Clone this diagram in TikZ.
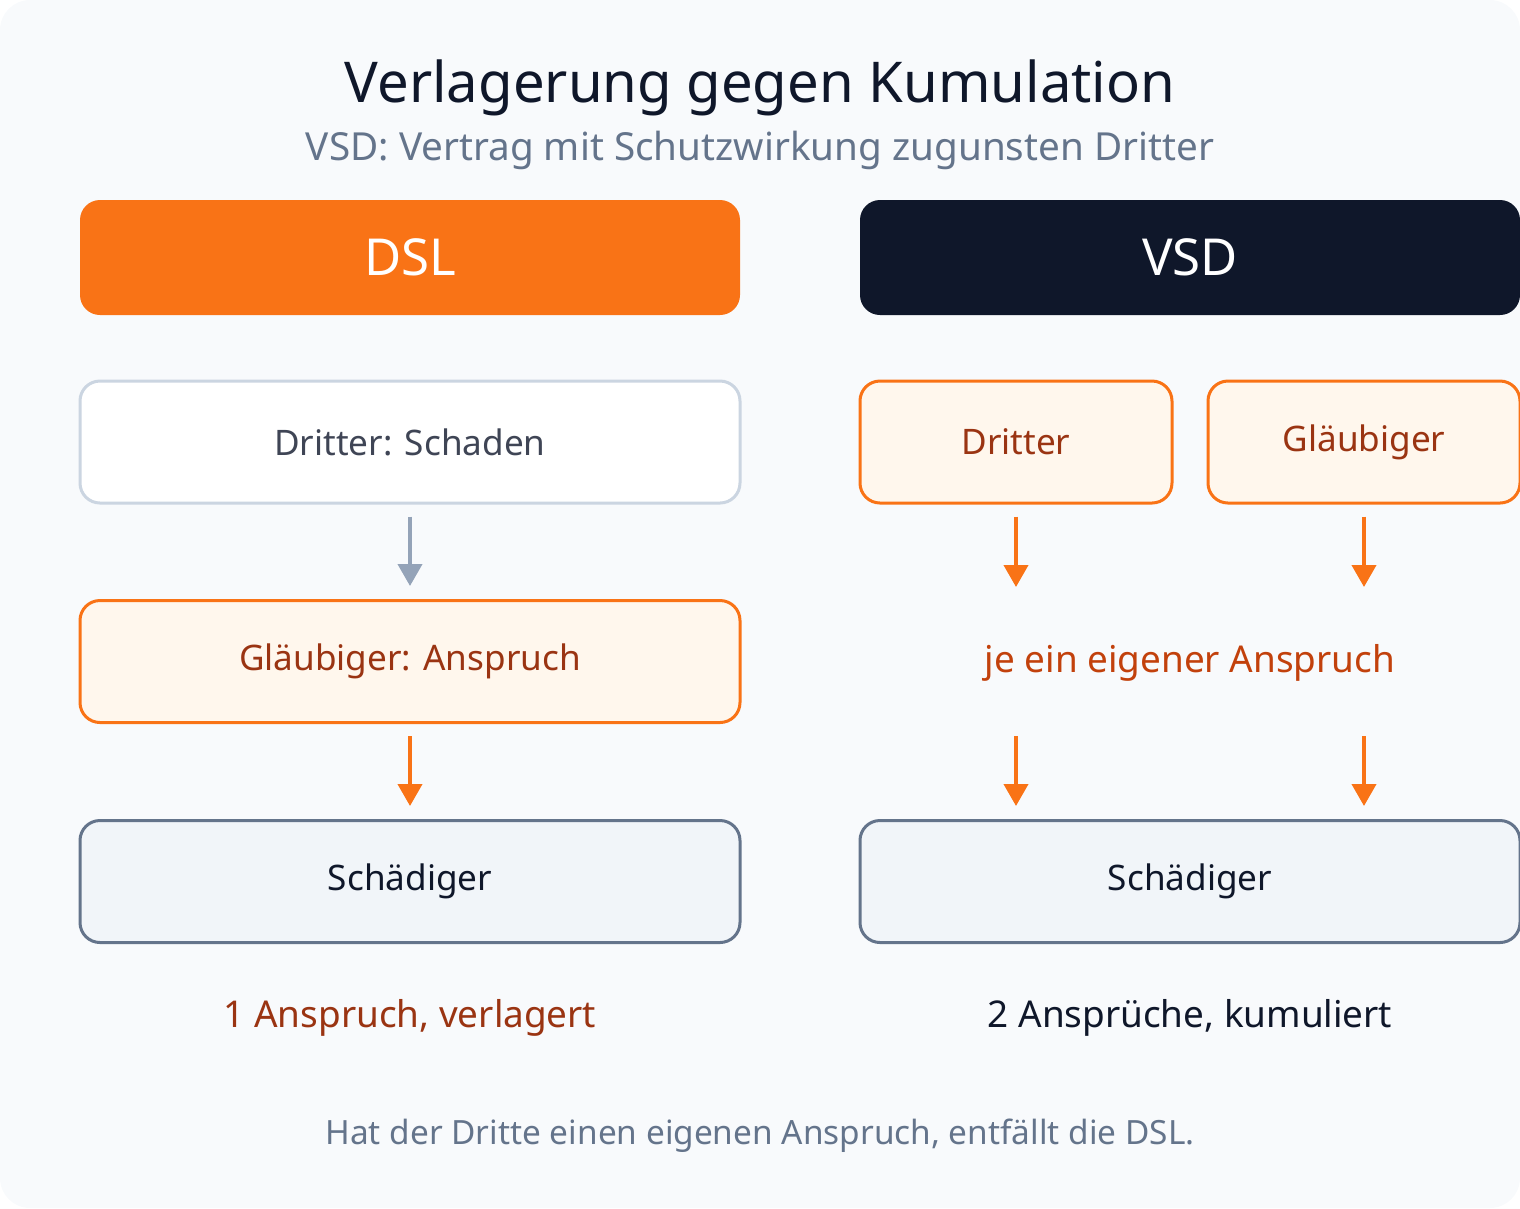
\documentclass[tikz,border=0pt]{standalone}
\usepackage{fontspec}
\setmainfont{Noto Sans}
\usetikzlibrary{arrows.meta, positioning, calc}
\definecolor{bgc}{HTML}{F8FAFC}
\definecolor{orng}{HTML}{F97316}
\definecolor{navy}{HTML}{0F172A}
\definecolor{brwn}{HTML}{9A3412}
\definecolor{rust}{HTML}{C2410C}
\definecolor{slt}{HTML}{64748B}
\definecolor{lgray}{HTML}{CBD5E1}
\definecolor{agray}{HTML}{94A3B8}
\definecolor{cream}{HTML}{FFF7ED}
\definecolor{pale}{HTML}{F1F5F9}
\begin{document}
\begin{tikzpicture}[
    box/.style={rectangle, rounded corners=0.2cm, line width=0.03cm, minimum height=1.22cm, font=\bfseries\fontsize{10}{12}\selectfont},
    head/.style={rectangle, rounded corners=0.2cm, minimum width=6.6cm, minimum height=1.15cm, text=white, font=\bfseries\fontsize{14.5}{16}\selectfont},
    pfeil/.style={-{Triangle[width=0.24cm,length=0.22cm]}, line width=0.04cm}
  ]
  \fill[bgc, rounded corners=0.3cm] (0,0) rectangle (15.2,-12.08);
  \useasboundingbox (0,0) rectangle (15.2,-12.08);
  % titles
  \node[text=navy, font=\bfseries\fontsize{16}{18}\selectfont] (title) at (7.6,-0.88) {Verlagerung gegen Kumulation};
  \node[text=slt, font=\fontsize{11}{13}\selectfont] (sub) at (7.6,-1.5) {VSD: Vertrag mit Schutzwirkung zugunsten Dritter};
  % DSL column
  \node[head, fill=orng] (dsl) at (4.1,-2.575) {DSL};
  \node[box, draw=lgray, fill=white, text=navy!80, minimum width=6.6cm] (ds) at (4.1,-4.42) {Dritter: Schaden};
  \node[box, draw=orng, fill=cream, text=brwn, minimum width=6.6cm] (ga) at (4.1,-6.615) {Gläubiger: Anspruch};
  \node[box, draw=slt, fill=pale, text=navy, minimum width=6.6cm] (sl) at (4.1,-8.815) {Schädiger};
  \draw[pfeil, agray, shorten <=0.12cm, shorten >=0.13cm] (ds) -- (ga);
  \draw[pfeil, orng, shorten <=0.12cm, shorten >=0.13cm] (ga) -- (sl);
  \node[text=brwn, font=\bfseries\fontsize{10.5}{12}\selectfont] (res1) at (4.1,-10.18) {1 Anspruch, verlagert};
  % VSD column
  \node[head, fill=navy] (vsd) at (11.9,-2.575) {VSD};
  \node[box, draw=orng, fill=cream, text=brwn, minimum width=3.12cm] (dr) at (10.16,-4.42) {Dritter};
  \node[box, draw=orng, fill=cream, text=brwn, minimum width=3.12cm] (gl) at (13.64,-4.42) {Gläubiger};
  \node[text=rust, font=\fontsize{10.5}{12}\selectfont] (je) at (11.9,-6.63) {je ein eigener Anspruch};
  \node[box, draw=slt, fill=pale, text=navy, minimum width=6.6cm] (sr) at (11.9,-8.815) {Schädiger};
  \coordinate (e1) at (10.16,-5.87);
  \coordinate (e2) at (13.64,-5.87);
  \coordinate (s1) at (10.16,-7.36);
  \coordinate (s2) at (13.64,-7.36);
  \draw[pfeil, orng, shorten <=0.12cm] (dr.south) -- (e1);
  \draw[pfeil, orng, shorten <=0.12cm] (gl.south) -- (e2);
  \draw[pfeil, orng, shorten >=0.13cm] (s1) -- (s1 |- sr.north);
  \draw[pfeil, orng, shorten >=0.13cm] (s2) -- (s2 |- sr.north);
  \node[text=navy, font=\bfseries\fontsize{10.5}{12}\selectfont] (res2) at (11.9,-10.18) {2 Ansprüche, kumuliert};
  % footer
  \node[text=slt, font=\fontsize{9.5}{11}\selectfont] (foot) at (7.6,-11.36) {Hat der Dritte einen eigenen Anspruch, entfällt die DSL.};
\end{tikzpicture}
\end{document}
